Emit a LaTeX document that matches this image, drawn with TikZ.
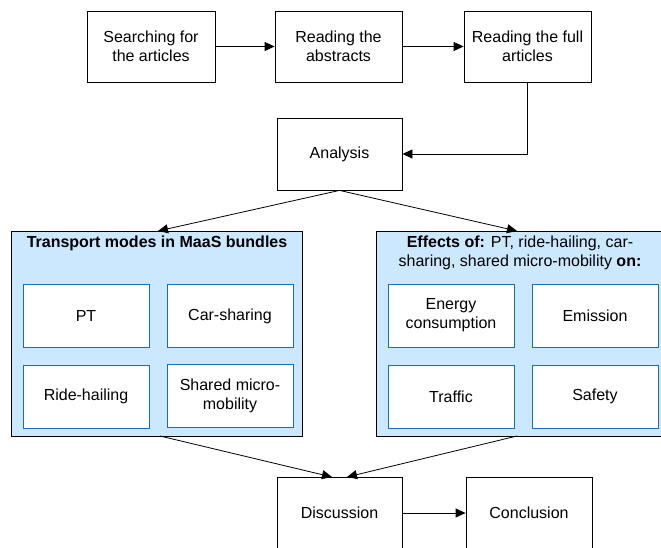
\documentclass[tikz,border=0pt]{standalone}
\usepackage{fontspec}
\setmainfont{Liberation Sans}
\usetikzlibrary{arrows.meta}
\definecolor{panelfill}{RGB}{204,232,255}
\definecolor{innerline}{RGB}{20,110,195}
\begin{document}
\begin{tikzpicture}[x=1pt,y=-1pt,
  every node/.style={font=\fontsize{16}{19}\selectfont, align=center, inner sep=0pt},
  stepbox/.style={draw=black, line width=0.8pt, fill=white, rectangle},
  panel/.style={draw=black, line width=0.9pt, fill=panelfill, rectangle},
  itembox/.style={draw=innerline, line width=1pt, fill=white, rectangle, minimum width=126pt, minimum height=63pt},
  conn/.style={draw=black, line width=0.8pt, -{Triangle[length=10pt,width=9pt]}}]
\useasboundingbox (0,0) rectangle (661,548);
\clip (0,0) rectangle (661,548);
% top row
\node[stepbox, minimum width=128pt, minimum height=71pt] (search) at (151,46.5) {Searching for\\the articles};
\node[stepbox, minimum width=127pt, minimum height=71pt] (abstr) at (338.5,46.5) {Reading the\\abstracts};
\node[stepbox, minimum width=127pt, minimum height=71pt] (full) at (527.5,46.5) {Reading the full\\articles};
\node[stepbox, minimum width=125pt, minimum height=72pt] (analysis) at (339.5,154) {Analysis};
% panels
\node[panel, minimum width=291pt, minimum height=205pt] (left) at (156.5,333.5) {};
\node[panel, minimum width=300pt, minimum height=205pt] (right) at (526,333.5) {};
\node[font=\fontsize{16}{19}\selectfont\bfseries] (lefttitle) at (157,243.5) {Transport modes in MaaS bundles};
\node (righttitle) at (520,253) {\textbf{Effects of:} PT, ride-hailing, car-\\sharing, shared micro-mobility \textbf{on:}};
% items
\node[itembox] (pt) at (86,316) {PT};
\node[itembox] (car) at (230,316) {Car-sharing};
\node[itembox] (ride) at (86,396.5) {Ride-hailing};
\node[itembox] (shared) at (230,396) {Shared micro-\\mobility};
\node[itembox] (energy) at (451,315.5) {Energy\\consumption};
\node[itembox] (emission) at (595,316) {Emission};
\node[itembox] (traffic) at (451,396.5) {Traffic};
\node[itembox] (safety) at (595,396.5) {Safety};
% bottom
\node[stepbox, minimum width=125pt, minimum height=72pt] (discussion) at (339.5,513) {Discussion};
\node[stepbox, minimum width=126pt, minimum height=72pt] (conclusion) at (529,513) {Conclusion};
% connector points
\coordinate (leftin) at (158,231);
\coordinate (rightin) at (517,231);
\coordinate (leftout) at (160,436);
\coordinate (rightout) at (517,436);
\coordinate (discl) at (332,477);
\coordinate (discr) at (347,477);
% connectors
\draw[conn] (search.east) -- (abstr.west);
\draw[conn] (abstr.east) -- (full.west);
\draw[conn] (full.south) |- (analysis.east);
\draw[conn] (analysis.south) -- (leftin);
\draw[conn] (analysis.south) -- (rightin);
\draw[conn] (leftout) -- (discl);
\draw[conn] (rightout) -- (discr);
\draw[conn] (discussion.east) -- (conclusion.west);
\end{tikzpicture}
\end{document}
